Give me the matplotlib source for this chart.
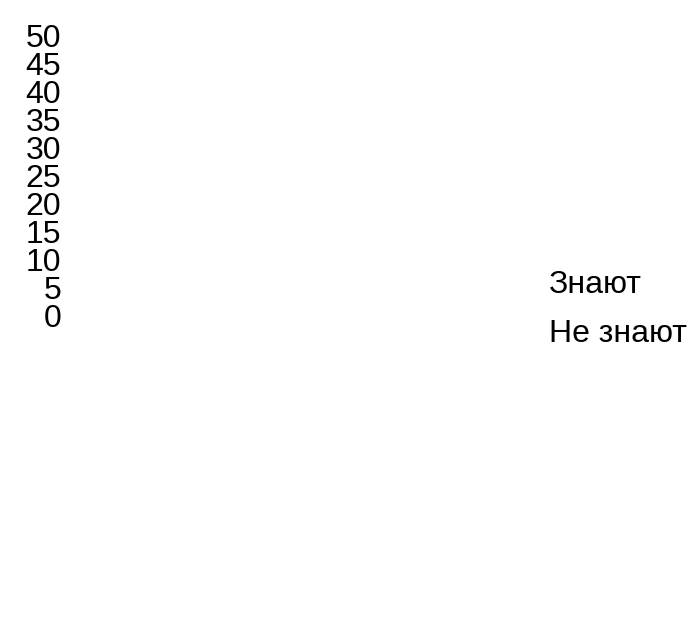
import matplotlib
matplotlib.use('Agg')
import matplotlib.pyplot as plt
from matplotlib.patches import Patch

plt.rcParams['font.family'] = ['Liberation Sans', 'DejaVu Sans']

# chart data: no bars are visible in the picture, only the axis and legend
categories = []
znayut = []
ne_znayut = []
series_names = ['Знают', 'Не знают']
y_ticks = [0, 5, 10, 15, 20, 25, 30, 35, 40, 45, 50]

fig = plt.figure(figsize=(6.97, 6.17), dpi=100)
ax = fig.add_axes([0.092, 0.488, 0.66, 0.455])

x = list(range(len(categories)))
ax.bar([i - 0.2 for i in x], znayut, width=0.4, color='none')
ax.bar([i + 0.2 for i in x], ne_znayut, width=0.4, color='none')

ax.set_ylim(y_ticks[0], y_ticks[-1])
ax.set_yticks(y_ticks)
ax.set_yticklabels([str(t) for t in y_ticks], fontsize=23)
ax.set_xticks([])
ax.tick_params(axis='y', length=0, pad=2)
for s in ax.spines.values():
    s.set_visible(False)

handles = [Patch(facecolor='none', edgecolor='none') for _ in series_names]
fig.legend(handles, series_names, loc='upper left', bbox_to_anchor=(0.787, 0.563),
           frameon=False, fontsize=23, handlelength=0, handletextpad=0,
           labelspacing=0.6, borderaxespad=0, borderpad=0)

fig.savefig('out.png', dpi=100, facecolor='white')
